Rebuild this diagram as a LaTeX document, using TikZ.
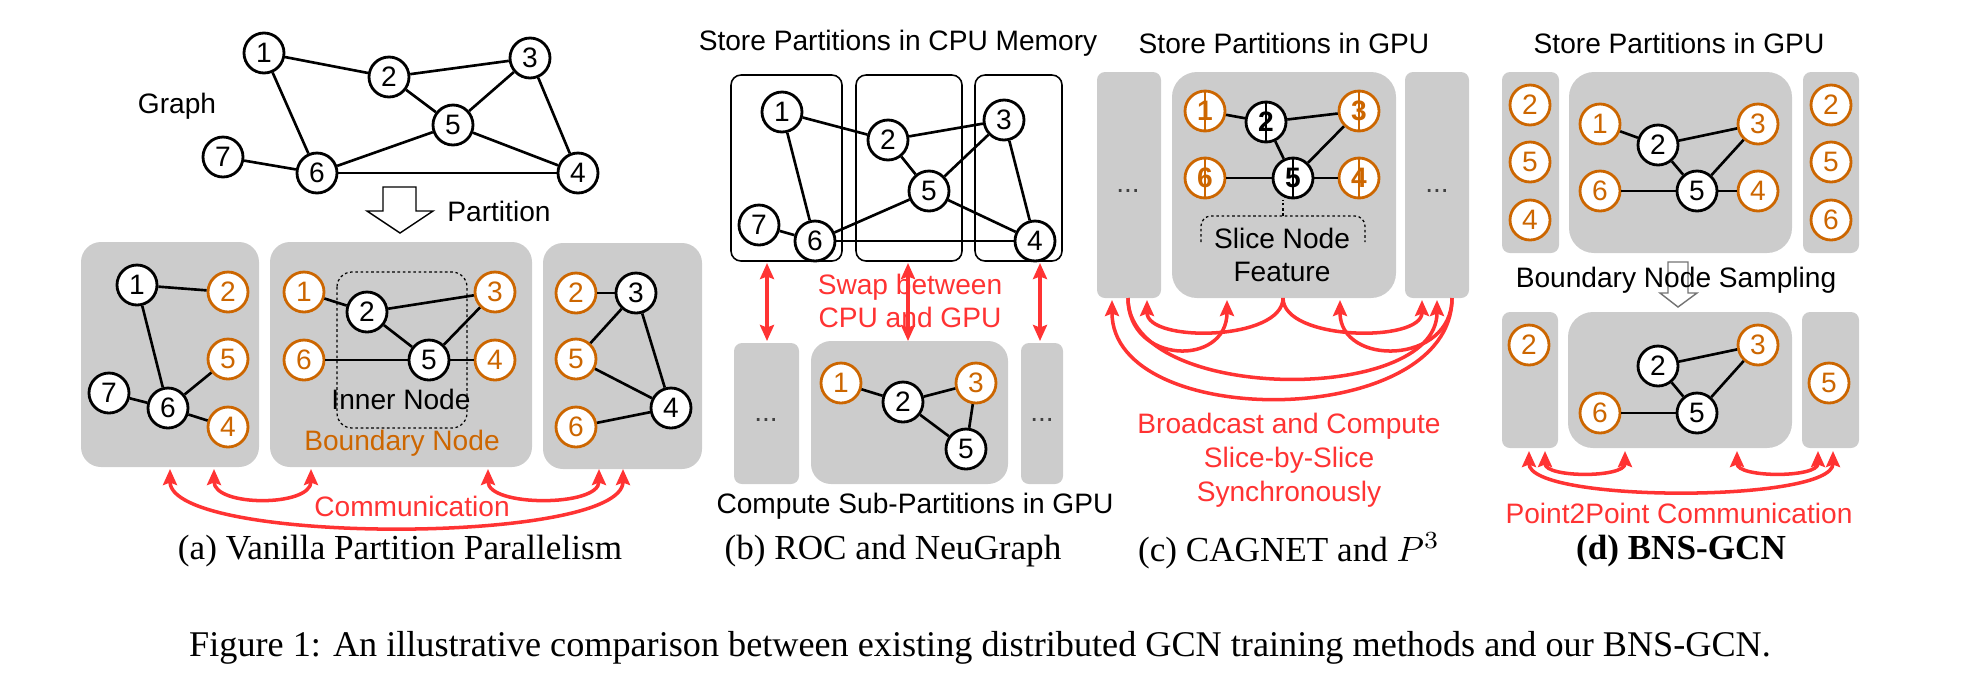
\documentclass[tikz,border=0pt]{standalone}
\usepackage{fontspec}
\setmainfont{Liberation Serif}
\setsansfont{Liberation Sans}
\usetikzlibrary{arrows.meta}
\definecolor{bnd}{RGB}{204,102,0}
\definecolor{swp}{RGB}{255,51,51}
\definecolor{gpu}{RGB}{204,204,204}
\def\F{\sffamily\fontsize{8}{9.4}\selectfont}

\begin{document}
\begin{tikzpicture}[x=0.1mm,y=-0.1mm,
    >={Stealth[length=1.6mm,width=1.4mm,inset=0.25mm]},
    vtx/.style={circle,draw,line width=0.8pt,fill=white,minimum size=4mm,inner sep=0pt,font=\F},
    bvtx/.style={vtx,draw=bnd,text=bnd},
    svtx/.style={vtx,font=\F\bfseries},
    sbvtx/.style={bvtx,font=\F\bfseries},
    link/.style={line width=0.75pt},
    partbox/.style={fill=gpu,rounded corners=2mm},
    sidebox/.style={fill=gpu,rounded corners=0.8mm},
    membox/.style={draw,line width=0.45pt,rounded corners=1mm},
    finedash/.style={line width=0.35pt,dash pattern=on 0.75pt off 0.75pt},
    lbl/.style={font=\F,align=center},
    rlbl/.style={lbl,text=swp},
    ellip/.style={lbl,text=black!75},
    subcap/.style={font=\rmfamily\fontsize{10}{12}\selectfont},
    xfer/.style={draw=swp,line width=1pt,->},
    bxfer/.style={xfer,<->}]
  \useasboundingbox (0,0) rectangle (1978,694);

  % (a) vanilla partition parallelism
  \node[lbl] (graph) at (177,106) {Graph};
  \node[vtx] (g1) at (264,53) {1};
  \node[vtx] (g2) at (389,77) {2};
  \node[vtx] (g3) at (530,58) {3};
  \node[vtx] (g5) at (453,125) {5};
  \node[vtx] (g6) at (317,173) {6};
  \node[vtx] (g7) at (223,157) {7};
  \node[vtx] (g4) at (578,173) {4};
  \foreach \a/\b in {1/2,1/6,2/3,2/5,3/5,3/4,5/4,5/6,7/6,6/4}
    \draw[link] (g\a) -- (g\b);
  \draw[line width=0.4pt] (383,187) -- (416,187) -- (416,211) -- (433,211) -- (400,233) -- (367,211) -- (383,211) -- cycle;
  \node[lbl] (part) at (499,211) {Partition};

  \fill[partbox] (81,242) rectangle (259,467);
  \fill[partbox] (270,242) rectangle (532,467);
  \fill[partbox] (543,243) rectangle (702,469);
  \draw[finedash,rounded corners=1.5mm] (337,272) rectangle (467,428);

  \node[vtx] (p1) at (137,285) {1};
  \node[bvtx] (p2) at (228,292) {2};
  \node[bvtx] (p5) at (228,359) {5};
  \node[vtx] (p7) at (109,393) {7};
  \node[vtx] (p6) at (168,408) {6};
  \node[bvtx] (p4) at (228,427) {4};
  \foreach \a/\b in {1/2,1/6,7/6,6/5,6/4}
    \draw[link] (p\a) -- (p\b);

  \node[bvtx] (q1) at (304,292) {1};
  \node[vtx] (q2) at (367,312) {2};
  \node[bvtx] (q3) at (495,292) {3};
  \node[bvtx] (q6) at (304,360) {6};
  \node[vtx] (q5) at (429,360) {5};
  \node[bvtx] (q4) at (495,360) {4};
  \foreach \a/\b in {1/2,2/3,2/5,5/3,6/5,5/4}
    \draw[link] (q\a) -- (q\b);
  \node[lbl] (inner) at (401,399) {Inner Node};
  \node[lbl,text=bnd] (bndry) at (402,443) {Boundary Node};

  \node[bvtx] (r2) at (576,293) {2};
  \node[vtx] (r3) at (636,293) {3};
  \node[bvtx] (r5) at (576,359) {5};
  \node[vtx] (r4) at (671,408) {4};
  \node[bvtx] (r6) at (576,427) {6};
  \foreach \a/\b in {2/3,3/5,3/4,5/4,6/4}
    \draw[link] (r\a) -- (r\b);

  \coordinate (ca1) at (170,469);
  \coordinate (ca2) at (214,469);
  \coordinate (ca3) at (311,469);
  \coordinate (ca4) at (488,469);
  \coordinate (ca5) at (599,469);
  \coordinate (ca6) at (623,469);
  \draw[bxfer] (ca1) .. controls +(0,76) and +(0,76) .. (ca6);
  \draw[bxfer] (ca2) .. controls +(0,38) and +(0,38) .. (ca3);
  \draw[bxfer] (ca4) .. controls +(0,38) and +(0,38) .. (ca5);
  \node[rlbl] (comm) at (412,506) {Communication};
  \node[subcap] (capa) at (400,551) {(a) Vanilla Partition Parallelism};

  % (b) ROC and NeuGraph
  \node[lbl] (cpu) at (898,43) {Store Partitions in CPU Memory};
  \draw[membox] (731,75) rectangle (842,261);
  \draw[membox] (856,75) rectangle (962,261);
  \draw[membox] (975,75) rectangle (1062,261);
  \node[vtx] (b1) at (782,112) {1};
  \node[vtx] (b2) at (888,140) {2};
  \node[vtx] (b3) at (1004,120) {3};
  \node[vtx] (b5) at (929,191) {5};
  \node[vtx] (b7) at (759,225) {7};
  \node[vtx] (b6) at (815,241) {6};
  \node[vtx] (b4) at (1035,241) {4};
  \foreach \a/\b in {1/2,1/6,2/3,2/5,3/5,3/4,5/4,5/6,7/6,6/4}
    \draw[link] (b\a) -- (b\b);

  \fill[sidebox] (734,343) rectangle (799,484);
  \fill[partbox] (811,341) rectangle (1008,484);
  \fill[sidebox] (1021,343) rectangle (1063,484);
  \node[ellip] (bl) at (766,420) {...};
  \node[ellip] (br) at (1042,420) {...};
  \node[bvtx] (c1) at (841,383) {1};
  \node[vtx] (c2) at (903,402) {2};
  \node[bvtx] (c3) at (976,383) {3};
  \node[vtx] (c5) at (966,449) {5};
  \foreach \a/\b in {1/2,2/3,3/5,2/5}
    \draw[link] (c\a) -- (c\b);

  \node[rlbl] (swap) at (910,301) {Swap between\\CPU and GPU};
  \coordinate (sw1) at (767,263);
  \coordinate (sw2) at (908,263);
  \coordinate (sw3) at (1040,263);
  \foreach \n in {1,2,3}
    \draw[bxfer] (sw\n) -- +(0,78);
  \node[lbl] (sub) at (915,506) {Compute Sub-Partitions in GPU};
  \node[subcap] (capb) at (893,551) {(b) ROC and NeuGraph};

  % (c) CAGNET and P3
  \node[lbl] (gpuc) at (1284,43) {Store Partitions in GPU};
  \fill[sidebox] (1097,72) rectangle (1161,298);
  \fill[partbox,rounded corners=2.5mm] (1172,72) rectangle (1396,298);
  \fill[sidebox] (1405,72) rectangle (1469,298);
  \node[ellip] (sl) at (1128,191) {...};
  \node[ellip] (sr) at (1437,191) {...};
  \node[sbvtx] (s1) at (1205,111) {1};
  \node[svtx] (s2) at (1266,122) {2};
  \node[sbvtx] (s3) at (1359,111) {3};
  \node[sbvtx] (s6) at (1205,178) {6};
  \node[svtx] (s5) at (1293,178) {5};
  \node[sbvtx] (s4) at (1359,178) {4};
  \foreach \a/\b in {1/2,2/3,2/5,3/5,6/5,5/4}
    \draw[link] (s\a) -- (s\b);
  \foreach \n in {2,5}
    \draw[link] (s\n.north) -- (s\n.south);
  \foreach \n in {1,3,6,4}
    \draw[link,bnd] (s\n.north) -- (s\n.south);
  \draw[finedash,rounded corners=1mm] (1201,242) -- (1201,216) -- (1365,216) -- (1365,242);
  \draw[finedash] (1283,216) -- (1283,200);
  \node[lbl] (feat) at (1282,255) {Slice Node\\Feature};

  \coordinate (bsl) at (1128,298);
  \coordinate (bsm) at (1283,298);
  \coordinate (bsr) at (1452,298);
  \coordinate (bt1) at (1112,300);
  \coordinate (bt2) at (1147,300);
  \coordinate (bt3) at (1227,300);
  \coordinate (bt4) at (1340,300);
  \coordinate (bt5) at (1422,300);
  \coordinate (bt6) at (1437,300);
  \draw[xfer] (bsm) .. controls +(0,43) and +(0,43) .. (bt2);
  \draw[xfer] (bsm) .. controls +(0,43) and +(0,43) .. (bt5);
  \draw[xfer] (bsl) .. controls +(0,67) and +(0,67) .. (bt3);
  \draw[xfer] (bsr) .. controls +(0,67) and +(0,67) .. (bt4);
  \draw[xfer] (bsl) .. controls +(0,105) and +(0,105) .. (bt6);
  \draw[xfer] (bsr) .. controls +(0,132) and +(0,132) .. (bt1);
  \node[rlbl,font=\sffamily\fontsize{8}{9.6}\selectfont] (bcast) at (1289,460) {Broadcast and Compute\\Slice-by-Slice\\Synchronously};
  \node[subcap] (capc) at (1289,551) {(c) CAGNET and $P^3$};

  % (d) BNS-GCN
  \node[lbl] (gpud) at (1679,43) {Store Partitions in GPU};
  \fill[sidebox] (1502,72) rectangle (1559,253);
  \fill[partbox,rounded corners=2.5mm] (1569,72) rectangle (1792,253);
  \fill[sidebox] (1803,72) rectangle (1859,253);
  \node[bvtx] (d2) at (1530,105) {2};
  \node[bvtx] (d5) at (1530,162) {5};
  \node[bvtx] (d4) at (1530,220) {4};
  \node[bvtx] (e1) at (1600,124) {1};
  \node[vtx] (e2) at (1658,145) {2};
  \node[bvtx] (e3) at (1758,124) {3};
  \node[bvtx] (e6) at (1600,191) {6};
  \node[vtx] (e5) at (1697,191) {5};
  \node[bvtx] (e4) at (1758,191) {4};
  \foreach \a/\b in {1/2,2/3,2/5,3/5,6/5,5/4}
    \draw[link] (e\a) -- (e\b);
  \node[bvtx] (f2) at (1831,105) {2};
  \node[bvtx] (f5) at (1831,162) {5};
  \node[bvtx] (f6) at (1831,220) {6};

  \draw[line width=0.4pt,black!55] (1668,262) -- (1688,262) -- (1688,293) -- (1697,293) -- (1678,307) -- (1660,293) -- (1668,293) -- cycle;
  \node[lbl] (bns) at (1676,280) {Boundary Node Sampling};

  \fill[sidebox] (1502,312) rectangle (1558,448);
  \fill[partbox,rounded corners=2.5mm] (1568,312) rectangle (1792,448);
  \fill[sidebox] (1802,312) rectangle (1859,448);
  \node[bvtx] (h2) at (1529,345) {2};
  \node[vtx] (k2) at (1658,366) {2};
  \node[bvtx] (k3) at (1758,345) {3};
  \node[bvtx] (k6) at (1600,413) {6};
  \node[vtx] (k5) at (1697,413) {5};
  \foreach \a/\b in {2/3,2/5,3/5,6/5}
    \draw[link] (k\a) -- (k\b);
  \node[bvtx] (m5) at (1829,383) {5};

  \coordinate (pt1) at (1529,451);
  \coordinate (pt2) at (1545,451);
  \coordinate (pt3) at (1625,451);
  \coordinate (pt4) at (1737,451);
  \coordinate (pt5) at (1818,451);
  \coordinate (pt6) at (1833,451);
  \draw[bxfer] (pt1) .. controls +(0,52) and +(0,52) .. (pt6);
  \draw[bxfer] (pt2) .. controls +(0,27) and +(0,27) .. (pt3);
  \draw[bxfer] (pt4) .. controls +(0,27) and +(0,27) .. (pt5);
  \node[rlbl] (p2p) at (1679,513) {Point2Point Communication};
  \node[subcap] (capd) at (1681,551) {\bfseries (d) BNS-GCN};

  \node[subcap,font=\rmfamily\fontsize{10.3}{12}\selectfont] (fig) at (980,648) {Figure 1: An illustrative comparison between existing distributed GCN training methods and our BNS-GCN.};
\end{tikzpicture}
\end{document}
